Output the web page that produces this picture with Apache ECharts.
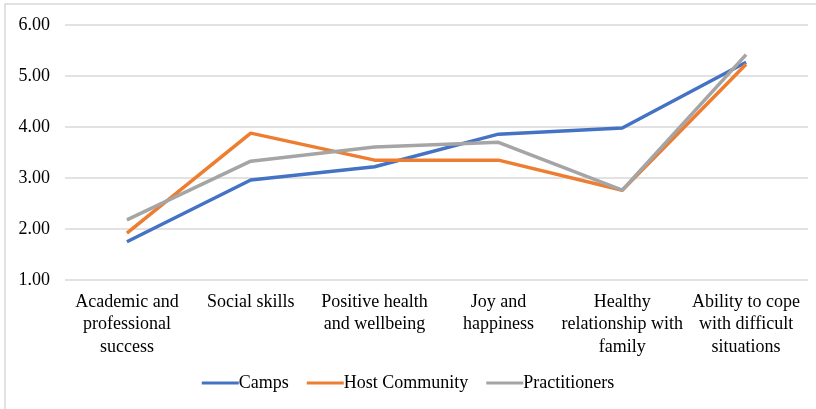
<!DOCTYPE html>
<html>
<head>
<meta charset="utf-8">
<script src="https://cdn.jsdelivr.net/npm/echarts@6/dist/echarts.min.js"></script>
<style>
  html, body { margin: 0; padding: 0; background: #fff; }
  #chart { width: 816px; height: 409px; }
</style>
</head>
<body>
<div id="chart"></div>
<script>
// chart data
var categories = [
    'Academic and\nprofessional\nsuccess',
    'Social skills',
    'Positive health\nand wellbeing',
    'Joy and\nhappiness',
    'Healthy\nrelationship with\nfamily',
    'Ability to cope\nwith difficult\nsituations'
];
var camps = [1.75, 2.96, 3.22, 3.86, 3.98, 5.27];
var hostCommunity = [1.92, 3.88, 3.35, 3.35, 2.76, 5.23];
var practitioners = [2.18, 3.33, 3.61, 3.70, 2.76, 5.42];

var font = 'Liberation Serif, Times New Roman, serif';

function lineSeries(name, data, color) {
    return {
        name: name,
        type: 'line',
        data: data,
        symbol: 'none',
        smooth: false,
        lineStyle: { color: color, width: 3.5 },
        itemStyle: { color: color }
    };
}

var chart = echarts.init(document.getElementById('chart'));
chart.setOption({
    animation: false,
    backgroundColor: '#fff',
    textStyle: { fontFamily: font },
    graphic: [{
        type: 'rect',
        shape: { x: 5, y: 4, width: 830, height: 420 },
        style: { fill: 'none', stroke: '#d9d9d9', lineWidth: 1.5 },
        silent: true
    }],
    grid: { left: 65, right: 8, top: 25, bottom: 129 },
    legend: {
        bottom: 12,
        left: 'center',
        itemWidth: 37,
        itemHeight: 3,
        itemGap: 18,
        icon: 'rect',
        textStyle: { fontFamily: font, fontSize: 18, color: '#000', padding: [0, 0, 0, -5] },
        data: ['Camps', 'Host Community', 'Practitioners']
    },
    xAxis: {
        type: 'category',
        data: categories,
        boundaryGap: true,
        axisLine: { show: false },
        axisTick: { show: false },
        axisLabel: {
            interval: 0,
            margin: 11,
            fontFamily: font,
            fontSize: 18,
            lineHeight: 22.5,
            color: '#000'
        }
    },
    yAxis: {
        type: 'value',
        min: 1,
        max: 6,
        interval: 1,
        axisLine: { show: false },
        axisTick: { show: false },
        splitLine: { lineStyle: { color: '#d9d9d9', width: 1.5 } },
        axisLabel: {
            margin: 15,
            fontFamily: font,
            fontSize: 18,
            color: '#000',
            formatter: function (v) { return v.toFixed(2); }
        }
    },
    series: [
        lineSeries('Camps', camps, '#4472C4'),
        lineSeries('Host Community', hostCommunity, '#ED7D31'),
        lineSeries('Practitioners', practitioners, '#A5A5A5')
    ]
});
</script>
</body>
</html>
